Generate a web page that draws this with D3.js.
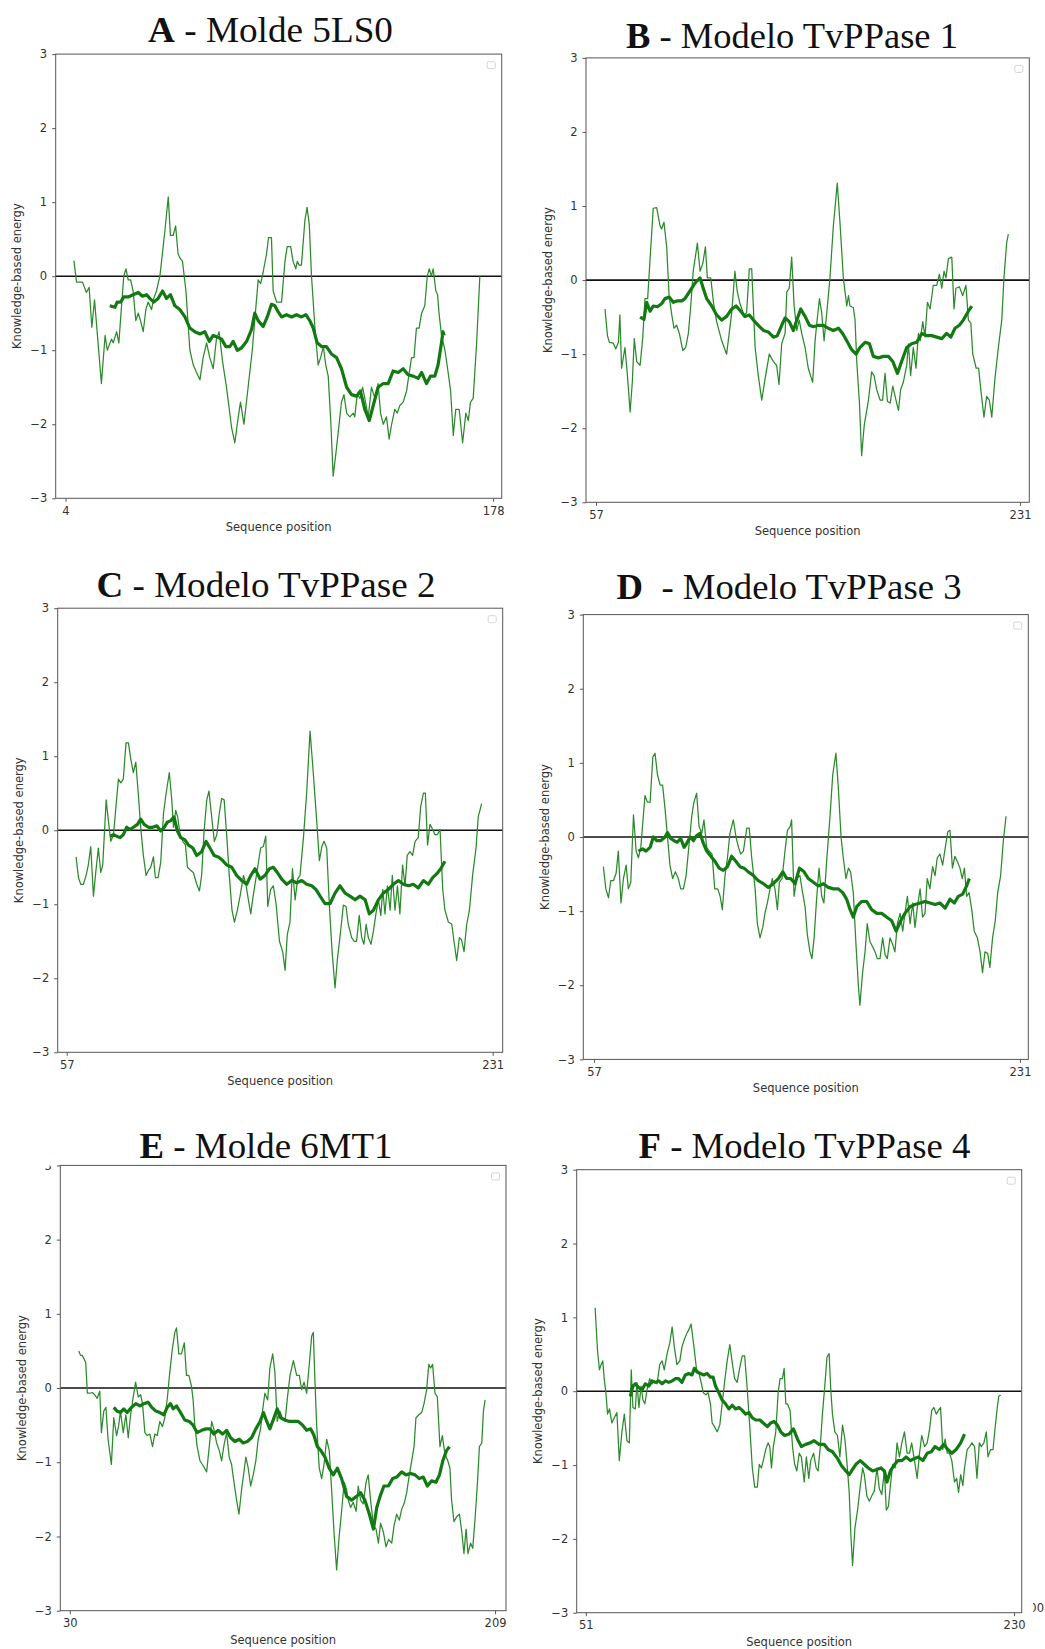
<!DOCTYPE html>
<html>
<head>
<meta charset="utf-8">
<script src="https://cdn.jsdelivr.net/npm/d3@7"></script>
<style>
  html, body { margin: 0; padding: 0; background: #fff; }
  svg { display: block; }
</style>
</head>
<body>
<svg id="fig" width="1045" height="1649"></svg>
<script>
// ProSA-style energy profiles: [sequence position, knowledge-based energy]
// thin = short window average, thick = long window average

const yTickValues = [-3, -2, -1, 0, 1, 2, 3];

const titleLetters = ["A", "B", "C", "D", "E", "F"];
const titleRests = [" - Molde 5LS0", " - Modelo TvPPase 1", " - Modelo TvPPase 2",
                    "  - Modelo TvPPase 3", " - Molde 6MT1", " - Modelo TvPPase 4"];

const xTicksA = [4, 178];
const xTicksB = [57, 231];
const xTicksC = [57, 231];
const xTicksD = [57, 231];
const xTicksE = [30, 209];
const xTicksF = [51, 230];

const xLimA = [0, 181.5];
const xLimB = [52.9, 234.8];
const xLimC = [53.3, 235.1];
const xLimD = [52.6, 234.4];
const xLimE = [26.0, 213.6];
const xLimF = [47.2, 233.2];

const thinA = [[7.4,0.21],[8.5,-0.08],[10.9,-0.08],[12.5,-0.22],[13.6,-0.15],[14.7,-0.69],[15.8,-0.32],[18.6,-1.45],[20.1,-0.8],[21,-1.0],[22.7,-0.85],[23.4,-0.9],[24.8,-0.75],[25.7,-0.9],[26.8,-0.4],[27.7,0.0],[28.6,0.1],[29.5,-0.05],[30.5,-0.05],[31.5,-0.2],[32.6,-0.6],[33.6,-0.5],[34.5,-0.6],[35.6,-0.75],[36.7,-0.45],[37.6,-0.35],[39,-0.45],[39.9,-0.3],[41,-0.2],[42.4,0.0],[44.4,0.6],[45.8,1.07],[46.7,0.55],[47.8,0.55],[48.8,0.68],[49.8,0.3],[50.5,0.25],[51.6,0.2],[53,-0.2],[54.6,-1.0],[56,-1.2],[57.3,-1.3],[58.7,-1.4],[60,-1.1],[61.4,-0.9],[62.7,-1.1],[64.1,-1.25],[65.4,-0.85],[66.5,-0.75],[67.9,-1.15],[69.5,-1.5],[71.6,-2.05],[72.9,-2.25],[74.3,-1.9],[75.2,-1.7],[76.6,-2.0],[78.3,-1.5],[80,-1.0],[81,-0.6],[82.4,-0.05],[83.4,-0.1],[84.4,0.05],[85.8,0.3],[86.6,0.52],[87.8,0.52],[88.5,-0.2],[89.9,-0.35],[91.9,-0.35],[93.3,0.2],[94.2,0.4],[95.6,0.4],[96.6,0.2],[97.7,0.1],[98.3,0.2],[99.1,0.15],[100,0.15],[101.4,0.75],[102.3,0.93],[103.2,0.7],[104.1,0.0],[105.5,-0.7],[106.8,-1.2],[107.8,-1.1],[108.9,-0.95],[109.9,-1.2],[110.9,-1.35],[112,-2.0],[112.9,-2.7],[114,-2.4],[115,-2.1],[116.3,-1.7],[117.3,-1.6],[118.4,-1.85],[119.7,-1.9],[121.1,-1.85],[121.7,-1.9],[122.7,-1.6],[123.8,-1.65],[124.9,-1.5],[125.8,-1.65],[127.2,-1.9],[128.5,-1.5],[129.9,-1.65],[131.2,-1.45],[132.2,-1.85],[133.3,-2.0],[134.6,-1.9],[135.7,-2.2],[136.7,-2.0],[138,-1.8],[139,-1.85],[140,-1.75],[141.4,-1.7],[142.8,-1.55],[143.9,-1.3],[144.8,-1.1],[145.8,-1.1],[146.8,-0.7],[147.9,-0.7],[148.9,-0.5],[150.2,-0.4],[151.2,0.0],[152,0.1],[152.9,0.0],[153.6,0.1],[154.7,-0.2],[155.4,-0.25],[156,-0.5],[157,-0.8],[158.4,-1.0],[159.7,-1.3],[160.7,-1.55],[161.8,-2.15],[162.8,-1.8],[164.2,-1.8],[165.6,-2.25],[166.9,-1.85],[167.9,-1.95],[168.8,-1.7],[169.9,-1.65],[171.3,-0.9],[172.6,0.0]];
const thickA = [[22,-0.4],[24.1,-0.42],[25,-0.35],[26.4,-0.35],[27.7,-0.28],[29.5,-0.28],[31.5,-0.25],[33.6,-0.22],[35.3,-0.27],[37,-0.25],[38.3,-0.3],[39.9,-0.35],[41.7,-0.3],[43.5,-0.2],[45.1,-0.3],[46.7,-0.25],[48.5,-0.4],[50.5,-0.45],[52.6,-0.55],[54.6,-0.7],[56.6,-0.75],[58.7,-0.78],[60.7,-0.75],[62.5,-0.88],[64.1,-0.8],[65.7,-0.82],[67.5,-0.85],[69.2,-0.95],[70.9,-0.95],[72.2,-0.88],[73.9,-1.0],[75.6,-0.97],[77.7,-0.88],[79.7,-0.72],[81,-0.5],[82.4,-0.6],[84.4,-0.68],[86.1,-0.55],[87.8,-0.38],[89.2,-0.4],[90.5,-0.48],[91.9,-0.55],[93.9,-0.52],[96,-0.55],[98,-0.52],[100,-0.55],[101.8,-0.52],[103.4,-0.6],[104.8,-0.7],[106.4,-0.9],[108.2,-0.95],[110.2,-0.95],[112.2,-1.05],[114.3,-1.1],[116.3,-1.25],[118.4,-1.5],[120.4,-1.6],[122.4,-1.62],[124,-1.55],[125.8,-1.8],[127.6,-1.95],[129.2,-1.75],[131.2,-1.5],[133.3,-1.45],[135.3,-1.45],[137.3,-1.28],[139.4,-1.3],[141.4,-1.25],[143.4,-1.33],[145.5,-1.35],[147.5,-1.38],[148.9,-1.3],[150.9,-1.45],[152.5,-1.35],[154.3,-1.35],[155.6,-1.2],[157,-0.9],[157.6,-0.75],[158.1,-0.8]];

const thinB = [[60.7,-0.39],[61.7,-0.75],[62.5,-0.84],[64.1,-0.85],[65.1,-0.93],[66.2,-0.84],[66.8,-0.47],[67.5,-1.19],[68.9,-0.91],[69.9,-1.29],[71,-1.78],[71.9,-1.38],[72.7,-0.79],[73.7,-1.1],[75.1,-1.15],[76.2,-0.77],[77.1,-0.25],[78.2,-0.25],[79.4,0.4],[80.5,0.97],[81.9,0.98],[83.3,0.73],[83.9,0.69],[84.9,0.78],[86,0.45],[87,-0.21],[88.1,-0.47],[89,-0.65],[90.1,-0.61],[91.2,-0.72],[92.6,-0.95],[93.8,-0.91],[94.9,-0.72],[96,-0.3],[96.9,0.12],[98.6,0.5],[99.7,0.12],[100.8,0.22],[101.9,0.45],[102.7,0.03],[104.1,0.03],[105.2,-0.3],[106.5,-0.56],[108.6,-0.82],[110.6,-1.0],[112.7,-0.44],[114,0.12],[115,-0.16],[116.1,-0.32],[117.7,-0.47],[118.8,-0.44],[119.9,0.15],[120.9,0.15],[122.3,-0.91],[123.6,-1.29],[125,-1.62],[126.4,-1.33],[128.1,-1.0],[129.8,-1.1],[131.1,-1.15],[132.1,-1.41],[133.2,-0.86],[134.6,-0.72],[135.3,-0.16],[136.3,-0.11],[137.3,0.31],[138.3,-0.35],[139.4,-0.68],[140.4,-0.54],[141.4,-0.72],[142.8,-0.91],[144.1,-1.19],[145.9,-1.38],[146.9,-0.82],[147.6,-0.58],[148.7,-0.25],[149.6,-0.44],[150.6,-0.82],[151.7,-0.44],[153,0.03],[154.4,0.73],[156,1.31],[157.1,0.78],[158.5,0.03],[159.9,-0.35],[160.6,-0.21],[161.2,-0.35],[162.6,-0.37],[163.3,-0.54],[164,-1.1],[165.1,-1.66],[166,-2.37],[167.1,-1.95],[168.8,-1.62],[170.1,-1.24],[171.1,-1.29],[172.2,-1.48],[173.6,-1.62],[174.6,-1.62],[175.6,-1.26],[176.6,-1.64],[177.7,-1.66],[178.8,-1.43],[180.1,-1.62],[181.1,-1.76],[182,-1.48],[183.1,-1.38],[184.5,-1.15],[185.2,-0.86],[186.1,-1.29],[187.2,-0.91],[188.3,-1.19],[189.3,-0.72],[190,-0.82],[191.1,-0.56],[192,-0.77],[193,-0.3],[194.1,-0.39],[195.4,-0.07],[196.8,-0.07],[197.9,0.08],[198.9,-0.11],[199.8,0.12],[200.6,0.03],[201.6,0.29],[203,0.31],[203.9,-0.39],[204.7,-0.11],[206.1,-0.09],[207.5,-0.21],[208.8,-0.07],[209.8,-0.54],[210.8,-0.58],[211.6,-1.0],[213,-1.19],[214,-1.19],[214.9,-1.48],[216.2,-1.85],[217.3,-1.57],[218.4,-1.62],[219.4,-1.85],[220.7,-1.33],[222.1,-0.91],[223.5,-0.54],[224.4,0.03],[225.5,0.5],[226.2,0.62]];
const thickB = [[75.1,-0.5],[76.7,-0.53],[77.8,-0.3],[79.2,-0.42],[80.5,-0.35],[82.2,-0.36],[83.9,-0.32],[85.3,-0.25],[87.1,-0.23],[88.7,-0.3],[90.4,-0.28],[92.2,-0.28],[93.5,-0.25],[94.9,-0.18],[96.3,-0.11],[97.6,-0.04],[99.7,0.03],[101,-0.11],[102.4,-0.25],[104.5,-0.35],[106.5,-0.47],[108.6,-0.54],[110.6,-0.49],[112.7,-0.39],[114.5,-0.35],[116.4,-0.42],[118.1,-0.49],[119.9,-0.47],[121.6,-0.54],[123.6,-0.61],[125.7,-0.68],[127.7,-0.7],[129.8,-0.77],[131.4,-0.75],[133.2,-0.61],[134.6,-0.51],[136.3,-0.56],[138,-0.68],[139.4,-0.54],[141,-0.39],[142.8,-0.49],[144.6,-0.61],[146.2,-0.63],[148.2,-0.61],[150.3,-0.61],[152.3,-0.65],[154.4,-0.68],[156.5,-0.65],[158.2,-0.72],[159.9,-0.82],[161.9,-0.94],[163.7,-1.0],[165.3,-0.91],[167.4,-0.84],[169.2,-0.86],[170.8,-1.03],[172.9,-1.05],[174.9,-1.03],[177,-1.03],[178.8,-1.1],[180.7,-1.26],[182.4,-1.1],[184.5,-0.91],[186.5,-0.86],[188.6,-0.84],[190.7,-0.72],[192.7,-0.75],[194.8,-0.75],[196.8,-0.77],[198.9,-0.79],[200.9,-0.72],[202.6,-0.77],[204.3,-0.65],[206.1,-0.61],[207.7,-0.54],[209.8,-0.42],[211.2,-0.35]];

const thinC = [[60.8,-0.36],[61.8,-0.64],[62.7,-0.73],[63.8,-0.73],[64.9,-0.61],[65.8,-0.47],[66.8,-0.22],[67.9,-0.89],[69,-0.52],[69.9,-0.24],[70.9,-0.57],[71.7,-0.47],[73.1,0.41],[74,0.13],[75,-0.15],[76.1,-0.06],[77.1,0.32],[78.1,0.69],[79.1,0.64],[80.1,0.69],[81.2,1.18],[82.2,1.18],[83.1,0.97],[84.2,0.78],[85.2,0.92],[86.3,0.46],[87.2,0.04],[88.3,-0.34],[89.4,-0.61],[90.4,-0.54],[91.3,-0.5],[92.4,-0.36],[93.2,-0.64],[94.3,-0.64],[95.4,-0.43],[96.5,0.22],[97.6,0.5],[98.9,0.78],[99.9,0.41],[100.6,0.04],[101.5,0.27],[102.3,0.18],[103.3,-0.06],[104.4,-0.15],[105.5,-0.2],[106.3,-0.5],[107.6,-0.54],[108.7,-0.57],[110.1,-0.73],[111.2,-0.82],[112.1,-0.61],[113.1,-0.01],[114.2,0.41],[115.1,0.53],[116.2,0.18],[117.3,-0.15],[118.3,-0.06],[119.4,0.25],[120.3,0.43],[121.3,0.41],[122.4,-0.1],[123.4,-0.61],[124.5,-1.08],[125.5,-1.24],[126.7,-1.08],[127.8,-0.89],[129.2,-0.61],[130.2,-0.73],[131.2,-0.94],[132.2,-1.13],[133,-0.92],[133.9,-0.73],[134.9,-0.52],[136.2,-0.24],[137.3,-0.22],[138.3,-0.08],[139.1,-1.03],[140.3,-0.8],[141.4,-0.75],[142.5,-0.99],[143.9,-1.5],[145.2,-1.64],[146.2,-1.89],[147.1,-1.41],[148.2,-1.24],[149.2,-0.52],[150.3,-0.94],[151.3,-0.66],[152.3,-0.61],[153.7,-0.1],[155,0.5],[156.4,1.34],[157.7,0.78],[159.1,0.13],[160.2,-0.41],[161.2,-0.22],[162.1,-0.15],[163.2,-0.24],[164.3,-1.03],[165.4,-1.64],[166.6,-2.13],[167.6,-1.73],[168.6,-1.45],[170,-1.01],[171.1,-1.03],[172,-1.27],[173.4,-1.45],[174.4,-1.5],[175.4,-1.5],[176.5,-1.15],[177.5,-1.45],[178.4,-1.54],[179.3,-1.27],[180.2,-1.45],[181.3,-1.54],[182.3,-1.36],[183.3,-1.13],[184.3,-0.94],[185.3,-1.15],[186.1,-0.8],[187,-1.13],[188,-0.75],[189.1,-1.08],[190,-0.61],[191.1,-1.08],[192.1,-0.75],[193.1,-1.13],[194.2,-0.47],[195.2,-0.75],[196.1,-0.34],[197.2,-0.29],[198.3,-0.34],[199.3,-0.15],[200.6,-0.1],[201.6,0.32],[202.7,0.5],[203.5,0.5],[204.4,-0.2],[205.4,0.08],[206.5,0.01],[207.4,-0.06],[208.4,-0.06],[209.5,0.01],[210.6,-0.8],[211.5,-1.08],[212.9,-1.24],[214.3,-1.27],[215.2,-1.5],[216.3,-1.76],[217.4,-1.45],[218.3,-1.48],[219.3,-1.64],[220.4,-1.27],[221.5,-1.08],[222.8,-0.61],[224.2,-0.24],[225.1,0.18],[226.5,0.36]];
const thickC = [[74.7,-0.08],[76.1,-0.06],[77.4,-0.08],[78.8,-0.1],[80.1,-0.06],[81.5,0.04],[82.9,0.01],[84.2,0.04],[85.9,0.08],[87.2,0.15],[88.6,0.08],[90.4,0.04],[92.1,0.04],[93.8,0.06],[95.4,-0.01],[96.8,0.04],[98.1,0.11],[99.5,0.13],[100.8,0.18],[102.2,-0.01],[103.6,-0.1],[105.3,-0.13],[106.7,-0.2],[108.5,-0.24],[110.1,-0.34],[112.1,-0.29],[113.9,-0.15],[115.5,-0.24],[117.2,-0.34],[118.9,-0.36],[120.7,-0.41],[122.4,-0.47],[124.4,-0.5],[126.4,-0.61],[128.5,-0.68],[130.5,-0.73],[132.2,-0.61],[133.9,-0.52],[136,-0.66],[138,-0.61],[139.8,-0.52],[141.4,-0.5],[143,-0.57],[144.8,-0.66],[146.9,-0.73],[148.9,-0.68],[150.9,-0.71],[153,-0.68],[155,-0.73],[157.1,-0.75],[158.8,-0.8],[160.5,-0.89],[162.5,-0.99],[164.6,-0.99],[166.6,-0.85],[168.6,-0.75],[170.7,-0.85],[172.7,-0.89],[174.8,-0.94],[176.8,-0.89],[178.9,-0.94],[180.6,-1.13],[182.3,-1.08],[184.3,-0.94],[186.3,-0.85],[188.4,-0.8],[190.4,-0.73],[192.5,-0.68],[194.5,-0.73],[196.6,-0.75],[198.6,-0.73],[200.6,-0.78],[202.7,-0.68],[204.7,-0.73],[206.5,-0.64],[208.1,-0.59],[209.8,-0.52],[211.5,-0.42]];

const thinD = [[60.8,-0.4],[61.8,-0.7],[62.9,-0.82],[63.8,-0.59],[64.9,-0.59],[66,-0.49],[66.9,-0.19],[68,-0.89],[69,-0.56],[70.1,-0.38],[71,-0.7],[72,-0.61],[73.1,0.3],[74.2,-0.19],[75.1,-0.28],[76.1,-0.14],[77.8,0.56],[78.8,0.47],[79.9,0.47],[81,1.08],[81.9,1.13],[82.9,0.84],[84,0.7],[85,0.7],[86,0.38],[87,0.0],[88,-0.38],[89.1,-0.56],[90.2,-0.47],[91.4,-0.56],[92.4,-0.7],[93.5,-0.7],[94.6,-0.52],[95.7,-0.14],[96.9,0.28],[97.8,0.47],[98.9,0.59],[99.9,0.14],[101,0.05],[101.9,0.23],[103,-0.14],[104.1,-0.19],[105.2,-0.23],[106.3,-0.7],[107.5,-0.7],[108.5,-0.8],[109.4,-0.98],[110.5,-0.52],[111.5,-0.28],[112.5,0.05],[113.9,0.23],[115,0.0],[116,-0.14],[116.9,-0.23],[118,-0.19],[119.4,0.12],[120.4,0.12],[121.4,-0.28],[122.8,-0.7],[123.7,-1.17],[124.8,-1.36],[125.9,-1.22],[126.8,-1.03],[127.8,-0.89],[128.9,-0.7],[129.8,-0.56],[130.9,-0.7],[131.9,-0.98],[132.7,-0.61],[133.8,-0.56],[135,-0.19],[136,0.09],[137.1,0.14],[137.7,0.23],[138.7,-0.8],[139.8,-0.56],[141.1,-0.52],[142.2,-0.75],[143.2,-0.94],[144.1,-1.31],[145.2,-1.55],[146,-1.64],[146.9,-1.36],[147.9,-0.84],[148.9,-0.42],[150,-0.8],[150.9,-0.89],[152,-0.33],[153.4,0.28],[154.5,0.84],[155.8,1.13],[156.8,0.66],[157.9,0.0],[158.8,-0.28],[159.9,-0.56],[160.9,-0.42],[161.8,-0.47],[162.9,-0.75],[164,-1.45],[165,-2.02],[165.6,-2.27],[166.7,-1.83],[167.7,-1.55],[168.6,-1.17],[169.7,-1.41],[170.8,-1.48],[171.8,-1.55],[172.7,-1.64],[173.8,-1.64],[174.9,-1.36],[175.9,-1.59],[176.8,-1.64],[177.9,-1.36],[179,-1.45],[179.9,-1.55],[180.9,-1.17],[182,-1.03],[183.1,-1.27],[184,-1.03],[185,-0.8],[186.1,-1.17],[187.2,-0.89],[188.1,-1.22],[189.1,-0.94],[190.2,-0.7],[191.2,-1.08],[192.2,-1.03],[193.1,-0.56],[194.2,-0.7],[195.3,-0.4],[196.3,-0.52],[197.2,-0.28],[198.3,-0.23],[199.4,-0.38],[200.5,-0.14],[201.5,0.07],[202.4,0.09],[203.4,-0.42],[204.4,-0.26],[205.4,-0.33],[206.5,-0.42],[207.4,-0.56],[208.3,-0.42],[209.2,-0.8],[210.2,-0.75],[211.3,-0.98],[212.3,-1.27],[213.6,-1.36],[214.7,-1.55],[215.7,-1.83],[216.7,-1.55],[217.8,-1.57],[218.7,-1.76],[219.8,-1.36],[220.9,-1.13],[221.9,-0.75],[223.1,-0.52],[224.2,-0.05],[225.3,0.28]];
const thickD = [[75.1,-0.19],[76.9,-0.16],[78.2,-0.19],[79.9,-0.14],[81.2,0.0],[82.6,-0.05],[84.2,-0.05],[86,0.0],[87,0.06],[88.3,-0.02],[89.7,-0.05],[91,-0.07],[92.4,-0.02],[93.8,-0.14],[94.8,-0.09],[96.2,0.0],[97.6,-0.05],[98.9,0.02],[100.3,0.05],[101.7,-0.09],[103,-0.19],[104.7,-0.26],[106.4,-0.33],[108.1,-0.42],[109.8,-0.45],[111.5,-0.4],[113.2,-0.26],[115,-0.33],[116.6,-0.4],[118.3,-0.42],[120,-0.47],[122.1,-0.52],[124.1,-0.59],[126.2,-0.63],[128.2,-0.68],[130.2,-0.63],[132.3,-0.56],[134.1,-0.47],[135.7,-0.56],[137.3,-0.56],[139.1,-0.63],[140.9,-0.42],[142.8,-0.47],[144.5,-0.56],[146.6,-0.61],[148.6,-0.66],[150.7,-0.63],[152.7,-0.68],[154.8,-0.7],[156.8,-0.7],[158.6,-0.75],[160.2,-0.84],[161.6,-0.98],[162.9,-1.08],[164.3,-0.94],[166.3,-0.87],[168.4,-0.87],[170.4,-0.98],[172.5,-1.03],[174.5,-1.03],[176.5,-1.08],[178.6,-1.13],[180.4,-1.27],[182.3,-1.13],[184,-1.03],[186.1,-0.94],[188.1,-0.91],[190.2,-0.89],[192.2,-0.87],[194.2,-0.89],[196.3,-0.91],[198.3,-0.89],[200.4,-0.96],[202.4,-0.84],[204.2,-0.89],[205.8,-0.8],[207.6,-0.77],[209.2,-0.66],[210.3,-0.56]];

const thinE = [[33.8,0.5],[34.5,0.44],[35.2,0.44],[35.9,0.4],[36.7,0.34],[37.4,-0.07],[38.4,-0.07],[39.5,-0.06],[40.5,-0.09],[41.5,-0.14],[42.6,-0.04],[43.3,-0.6],[44.3,-0.31],[45.2,-0.26],[46.1,-0.69],[47.5,-1.03],[48.5,-0.4],[49.7,-0.64],[50.6,-0.5],[51.3,-0.31],[52.5,-0.6],[53.6,-0.36],[54.6,-0.67],[55.6,-0.36],[56.7,-0.12],[57.7,0.08],[58.8,-0.12],[59.8,-0.09],[60.6,-0.21],[61.6,-0.6],[62.6,-0.64],[63.7,-0.62],[64.8,-0.79],[65.8,-0.62],[66.8,-0.64],[67.9,-0.45],[69,-0.52],[70,-0.4],[71.1,-0.12],[72.1,0.22],[73.1,0.51],[74.2,0.75],[74.9,0.81],[75.9,0.46],[77,0.46],[78.2,0.61],[79.1,0.17],[80.1,0.17],[81.2,0.03],[81.9,-0.16],[82.6,-0.5],[83.6,-0.79],[84.8,-0.98],[86.2,-1.05],[87.6,-1.13],[88.7,-0.79],[89.7,-0.45],[90.6,-0.55],[91.8,-0.74],[92.9,-0.84],[93.9,-0.98],[94.9,-0.77],[96,-0.6],[97.1,-0.93],[98.1,-1.03],[99.1,-1.27],[100.2,-1.51],[101.2,-1.7],[102.3,-1.37],[103.3,-1.13],[104.1,-0.93],[105.1,-1.08],[106.1,-1.32],[107.2,-1.17],[108.3,-0.98],[109.3,-0.69],[110.3,-0.55],[111.1,-0.31],[112.1,-0.07],[113.3,-0.16],[114.2,0.27],[115.4,0.46],[116.3,0.22],[117.3,-0.45],[118.4,-0.31],[119.4,-0.4],[120.6,-0.45],[121.5,-0.16],[122.7,0.17],[124.1,0.37],[125.5,0.17],[126.6,0.17],[127.6,-0.02],[128.6,0.08],[129.7,-0.07],[130.8,0.32],[131.8,0.7],[132.5,0.75],[133.2,0.08],[133.9,-0.5],[135,-1.08],[136,-1.22],[137,-1.03],[138.1,-0.69],[139.2,-0.84],[140.2,-1.37],[141.3,-1.99],[142.3,-2.45],[143.4,-1.99],[144.4,-1.66],[145.5,-1.27],[146.5,-1.37],[147.2,-1.51],[148.2,-1.61],[149.3,-1.54],[150.5,-1.66],[151.4,-1.32],[152.4,-1.51],[153.5,-1.56],[154.7,-1.27],[155.6,-1.17],[156.6,-1.51],[157.8,-1.85],[158.9,-1.9],[159.9,-2.09],[160.8,-1.82],[162,-1.94],[163.1,-2.14],[164.2,-2.04],[165.5,-2.09],[166.5,-1.85],[167.6,-1.7],[168.7,-1.78],[169.7,-1.63],[170.7,-1.56],[171.8,-1.41],[172.9,-1.17],[173.9,-0.98],[174.9,-0.79],[175.7,-0.4],[176.9,-0.36],[178.1,-0.33],[179.1,-0.21],[180.2,-0.02],[181.1,0.32],[181.9,0.27],[182.7,0.32],[183.7,-0.07],[184.7,-0.12],[185.8,-0.79],[186.8,-0.64],[187.9,-0.89],[189.1,-0.98],[190,-1.08],[190.7,-1.51],[191.7,-1.8],[192.9,-1.73],[194,-1.7],[195,-1.94],[195.9,-2.23],[196.8,-1.9],[197.6,-2.23],[198.7,-2.09],[199.6,-2.16],[200.6,-1.75],[201.6,-1.27],[202.4,-0.79],[203.4,-0.74],[204.1,-0.31],[204.8,-0.16]];
const thickE = [[48.5,-0.26],[49.9,-0.31],[51.3,-0.33],[52.7,-0.28],[54.1,-0.33],[56,-0.26],[57.8,-0.21],[59.5,-0.24],[61.2,-0.21],[62.9,-0.19],[64.5,-0.26],[66.2,-0.31],[67.9,-0.33],[69.6,-0.36],[71,-0.26],[72.4,-0.21],[73.5,-0.28],[74.9,-0.24],[76.6,-0.33],[78.4,-0.43],[80.3,-0.45],[81.9,-0.5],[83.6,-0.6],[85.5,-0.57],[87.3,-0.55],[89,-0.55],[90.6,-0.62],[92.5,-0.57],[94.3,-0.62],[96,-0.57],[97.7,-0.67],[99.5,-0.72],[101.3,-0.69],[103,-0.74],[104.7,-0.72],[106.5,-0.67],[108.3,-0.55],[110.1,-0.45],[111.5,-0.33],[112.9,-0.45],[114.2,-0.55],[115.6,-0.43],[117.3,-0.28],[118.7,-0.4],[120.6,-0.43],[122.4,-0.45],[124.3,-0.45],[126.2,-0.45],[128,-0.5],[129.7,-0.57],[131.4,-0.55],[132.8,-0.64],[134.2,-0.79],[135.6,-0.84],[137.4,-0.93],[139.2,-1.08],[140.9,-1.17],[142.6,-1.08],[144.4,-1.22],[146.5,-1.46],[148.6,-1.51],[150.7,-1.46],[152.4,-1.41],[154.2,-1.51],[156.1,-1.7],[157.8,-1.9],[159.2,-1.61],[160.6,-1.46],[162.2,-1.32],[164.1,-1.32],[165.9,-1.22],[167.6,-1.2],[169.7,-1.13],[171.5,-1.17],[173.5,-1.15],[175.3,-1.17],[177.1,-1.22],[178.8,-1.2],[180.5,-1.32],[182.3,-1.25],[184.1,-1.27],[185.6,-1.17],[187,-0.98],[188.6,-0.84],[189.8,-0.79]];

const thinF = [[54.9,1.13],[55.9,0.55],[56.7,0.29],[57.4,0.36],[58.1,0.41],[58.7,0.17],[59.4,-0.02],[60.1,-0.31],[60.9,-0.24],[61.9,-0.43],[62.9,-0.36],[64,-0.29],[65,-0.94],[66.1,-0.55],[67.1,-0.31],[68.2,-0.67],[69.2,-0.7],[70,0.29],[70.7,-0.22],[71.7,-0.24],[72.4,0.12],[73.2,-0.22],[74.1,0.07],[74.9,-0.12],[75.7,-0.17],[76.6,0.02],[77.7,0.17],[78.7,0.1],[79.6,0.14],[80.8,0.1],[81.9,0.36],[82.9,0.41],[83.8,0.29],[85,0.51],[86.1,0.65],[87.1,0.87],[88,0.6],[89.1,0.36],[90.3,0.41],[91.2,0.6],[92.2,0.7],[93.3,0.79],[94.2,0.84],[95,0.91],[96.1,0.63],[97.3,0.29],[98.2,0.26],[99.2,0.12],[100.1,-0.02],[101.2,-0.05],[102.1,-0.02],[103.1,-0.17],[103.8,-0.43],[104.8,-0.48],[105.9,-0.55],[107,-0.46],[108,-0.17],[109,0.12],[110.1,0.41],[111.2,0.63],[112.2,0.39],[113.2,0.17],[114.3,0.12],[115.3,0.31],[116.4,0.48],[117.4,0.48],[118.5,0.02],[119.6,-0.51],[120.6,-1.04],[121.6,-1.3],[122.7,-1.3],[123.5,-0.99],[124.4,-1.04],[125.2,-0.94],[126.2,-0.79],[127.2,-0.7],[127.9,-0.75],[128.6,-1.04],[129.4,-0.75],[130.4,-0.55],[131.4,-0.02],[132.2,0.17],[133.2,0.17],[133.9,0.31],[134.6,-0.17],[135.3,-0.17],[136.4,-0.26],[137.4,-0.75],[138.3,-0.99],[139.2,-1.08],[140.2,-0.84],[141.1,-0.89],[142.3,-1.23],[143.2,-0.89],[144.2,-1.18],[145,-0.94],[146.2,-0.84],[147.3,-1.04],[148.1,-1.08],[149,-0.75],[149.9,-0.31],[150.9,0.07],[151.8,0.46],[152.7,0.51],[153.4,0.02],[154.1,-0.31],[155.1,-0.55],[156.2,-0.6],[157.2,-0.89],[158.3,-0.46],[159.3,-0.65],[160.1,-0.94],[161.1,-1.37],[161.8,-1.95],[162.5,-2.36],[163.5,-1.85],[164.6,-1.61],[165.6,-1.32],[166.7,-1.04],[167.4,-1.13],[168.5,-1.42],[169.5,-1.49],[170.5,-1.42],[171.6,-1.35],[172.7,-1.04],[173.7,-1.32],[174.7,-1.4],[175.8,-1.08],[176.6,-1.61],[177.5,-1.56],[178.3,-1.28],[179.3,-0.99],[180.3,-1.04],[181.1,-0.7],[182.1,-0.89],[183.1,-0.7],[184.2,-0.55],[185.3,-0.84],[186.3,-0.84],[187.2,-0.7],[188.4,-0.94],[189.5,-1.18],[190.5,-0.84],[191.4,-0.6],[192.6,-0.75],[193.7,-0.7],[194.7,-0.51],[195.6,-0.26],[196.5,-0.22],[197.5,-0.31],[198.4,-0.26],[199.3,-0.22],[200.2,-0.79],[201.2,-0.65],[202.1,-0.84],[203,-0.84],[204,-0.94],[205.1,-1.23],[206,-1.18],[206.8,-1.37],[207.7,-1.13],[208.6,-1.28],[209.3,-1.04],[210.4,-0.79],[211.4,-0.75],[212.4,-0.7],[213.5,-0.75],[214.5,-1.18],[215.5,-0.7],[216.3,-0.75],[217.4,-0.7],[218.4,-0.55],[219.1,-0.89],[220.2,-0.79],[221.2,-0.79],[222.2,-0.46],[223,-0.22],[223.6,-0.07],[224.4,-0.05]];
const thickF = [[69.6,-0.07],[70.7,0.07],[71.7,0.1],[73.1,0.05],[74.5,0.02],[75.9,0.1],[77.3,0.07],[78.7,0.14],[80.1,0.12],[81.5,0.14],[82.9,0.1],[84.3,0.14],[85.7,0.12],[87.1,0.14],[88.5,0.17],[89.8,0.17],[91.2,0.12],[92.6,0.22],[94,0.24],[95.4,0.22],[96.4,0.31],[97.5,0.26],[98.9,0.24],[100.3,0.22],[101.7,0.24],[103.1,0.19],[104.2,0.19],[105.2,0.07],[106.6,-0.02],[108,-0.12],[109.4,-0.17],[110.8,-0.24],[112.2,-0.19],[113.6,-0.24],[115,-0.22],[116.4,-0.26],[117.8,-0.31],[119.2,-0.29],[120.6,-0.36],[122,-0.39],[123.8,-0.39],[125.2,-0.43],[126.9,-0.48],[128.3,-0.43],[129.7,-0.41],[131.1,-0.46],[132.5,-0.55],[134.1,-0.6],[136,-0.58],[137.8,-0.51],[139.5,-0.65],[141.1,-0.75],[142.9,-0.72],[144.8,-0.7],[146.4,-0.67],[148.5,-0.72],[150.6,-0.72],[152.3,-0.79],[154.1,-0.82],[156.2,-0.91],[157.9,-1.01],[159.7,-1.08],[161.1,-1.13],[162.5,-1.06],[163.9,-0.99],[165.7,-0.94],[167.4,-0.99],[169.1,-1.04],[170.9,-1.08],[172.7,-1.06],[174.4,-1.04],[175.8,-1.08],[176.9,-1.23],[178.3,-1.08],[179.7,-1.01],[181.4,-0.94],[183.1,-0.94],[184.9,-0.89],[186.7,-0.94],[188.4,-0.91],[190,-0.89],[191.9,-0.94],[193.7,-0.84],[195.4,-0.82],[197,-0.75],[198.8,-0.79],[200.6,-0.72],[202.3,-0.79],[204,-0.84],[205.8,-0.79],[207.7,-0.7],[209.3,-0.58]];

// ---- layout: plot frames [left, top, right, bottom] and title placement ----
const panels = [
  { frame: [55.7, 54.1, 501.7, 498.3],   xLim: xLimA, xTicks: xTicksA, thin: thinA, thick: thickA, title: { cx: 270.5, y: 42,   w: 245 } },
  { frame: [586.0, 57.9, 1029.3, 502.3], xLim: xLimB, xTicks: xTicksB, thin: thinB, thick: thickB, title: { cx: 792,   y: 48,   w: 332 } },
  { frame: [57.7, 608.2, 502.7, 1052.3], xLim: xLimC, xTicks: xTicksC, thin: thinC, thick: thickC, title: { cx: 266,   y: 597,  w: 339 } },
  { frame: [583.3, 614.6, 1028.3, 1059.4], xLim: xLimD, xTicks: xTicksD, thin: thinD, thick: thickD, title: { cx: 789, y: 599,  w: 345 } },
  { frame: [60.3, 1165.4, 506.0, 1610.7], xLim: xLimE, xTicks: xTicksE, thin: thinE, thick: thickE, title: { cx: 266,   y: 1158, w: 253 } },
  { frame: [576.7, 1169.7, 1021.7, 1612.7], xLim: xLimF, xTicks: xTicksF, thin: thinF, thick: thickF, title: { cx: 804.5, y: 1158, w: 332 } }
];

const svg = d3.select("#fig");
const sans = "'DejaVu Sans', 'Noto Sans', sans-serif";
const serif = "'Liberation Serif', 'Times New Roman', 'DejaVu Serif', serif";
const thinColor = "#2b8a2b";
const thickColor = "#137a13";
const minus = v => (v < 0 ? "\u2212" + Math.abs(v) : String(v));

panels.forEach((p, i) => {
  const [L, T, R, B] = p.frame;
  const x = d3.scaleLinear().domain(p.xLim).range([L, R]);
  const y = d3.scaleLinear().domain([-3, 3]).range([B, T]);
  const g = svg.append("g");

  const clipId = "clip" + i;
  svg.append("clipPath").attr("id", clipId)
    .append("rect").attr("x", L).attr("y", T).attr("width", R - L).attr("height", B - T);

  // y axis
  const yAxis = g.append("g").attr("transform", `translate(${L},0)`)
    .call(d3.axisLeft(y).tickValues(yTickValues).tickSize(3.5).tickPadding(5).tickFormat(minus));
  // x axis
  const xAxis = g.append("g").attr("transform", `translate(0,${B})`)
    .call(d3.axisBottom(x).tickValues(p.xTicks).tickSize(3.5).tickPadding(5).tickFormat(d3.format("d")));
  [yAxis, xAxis].forEach(a => {
    a.select(".domain").remove();
    a.selectAll("line").attr("stroke", "#444").attr("stroke-width", 0.9);
    a.selectAll("text").attr("fill", "#333").style("font-family", sans).style("font-size", "11.5px");
  });

  const plot = g.append("g").attr("clip-path", `url(#${clipId})`);

  // zero reference line
  plot.append("line")
    .attr("x1", x(p.xLim[0])).attr("x2", x(p.xLim[1]))
    .attr("y1", y(0)).attr("y2", y(0))
    .attr("stroke", "#111").attr("stroke-width", 1.6);

  const line = d3.line().x(d => x(d[0])).y(d => y(d[1]));

  plot.append("path").datum(p.thin)
    .attr("d", line).attr("fill", "none")
    .attr("stroke", thinColor).attr("stroke-width", 1.25).attr("stroke-linejoin", "round");

  plot.append("path").datum(p.thick)
    .attr("d", line).attr("fill", "none")
    .attr("stroke", thickColor).attr("stroke-width", 3.2).attr("stroke-linejoin", "round");

  // axes frame
  g.append("rect").attr("x", L).attr("y", T).attr("width", R - L).attr("height", B - T)
    .attr("fill", "none").attr("stroke", "#555").attr("stroke-width", 1);

  // empty legend box
  g.append("rect").attr("x", R - 14.5).attr("y", T + 7.5).attr("width", 8).attr("height", 7)
    .attr("rx", 1.5).attr("fill", "#fff").attr("stroke", "#cfcfcf").attr("stroke-width", 0.9);

  // axis titles
  g.append("text")
    .attr("transform", `translate(${L - 38.5},${(T + B) / 2}) rotate(-90)`)
    .attr("text-anchor", "middle").attr("dominant-baseline", "central")
    .style("font-family", sans).style("font-size", "11.5px").attr("fill", "#333")
    .text("Knowledge-based energy");

  g.append("text")
    .attr("x", (L + R) / 2).attr("y", B + 33)
    .attr("text-anchor", "middle")
    .style("font-family", sans).style("font-size", "11.5px").attr("fill", "#333")
    .text("Sequence position");

  // panel title, stretched to its measured width
  const tg = svg.append("g").attr("transform", `translate(${p.title.cx},${p.title.y})`);
  const t = tg.append("text")
    .attr("text-anchor", "middle")
    .attr("xml:space", "preserve")
    .style("white-space", "pre")
    .style("font-family", serif).style("font-size", "35px").attr("fill", "#111");
  t.append("tspan").style("font-weight", "bold").text(titleLetters[i]);
  t.append("tspan").text(titleRests[i]);
  const w = t.node().getComputedTextLength();
  if (w > 0) t.attr("transform", `scale(${p.title.w / w},1)`);
});

// the top "3" of panel E sits under the title block
svg.append("rect").attr("x", 28).attr("y", 1148).attr("width", 29).attr("height", 17.6).attr("fill", "#fff");

// partial tick label cut at the right margin of panel F
svg.append("clipPath").attr("id", "edgeClip")
  .append("rect").attr("x", 1033).attr("y", 1590).attr("width", 20).attr("height", 30);
svg.append("text")
  .attr("x", 1044).attr("y", 1612)
  .attr("text-anchor", "end").attr("clip-path", "url(#edgeClip)")
  .style("font-family", sans).style("font-size", "11.5px").attr("fill", "#333")
  .text("200");
</script>
</body>
</html>
